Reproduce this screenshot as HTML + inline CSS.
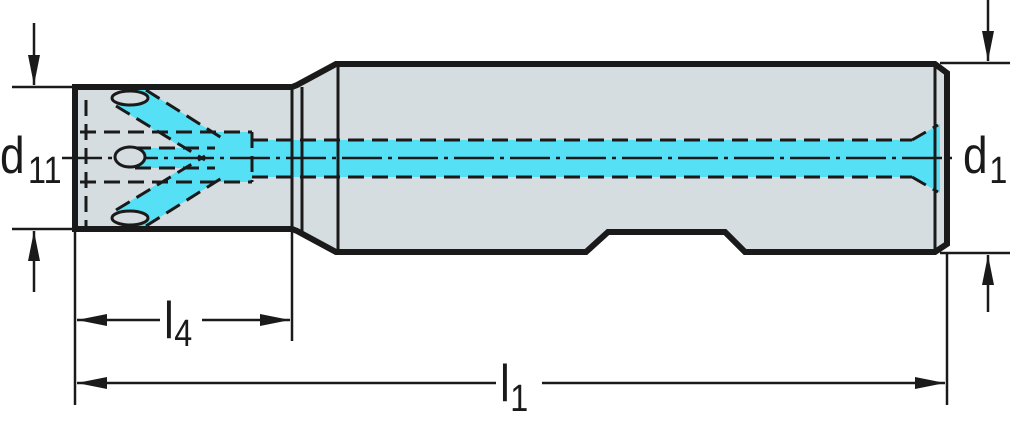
<!DOCTYPE html>
<html><head><style>html,body{margin:0;padding:0;background:#fff}svg{display:block}text{font-family:"Liberation Sans",sans-serif;fill:#1a1a1a}</style></head>
<body>
<svg width="1024" height="428" viewBox="0 0 1024 428" xmlns="http://www.w3.org/2000/svg">
<defs>
<marker id="a" viewBox="0 0 30 12" refX="30" refY="6" markerWidth="30" markerHeight="12" markerUnits="userSpaceOnUse" orient="auto"><path d="M0,0L30,6L0,12z" fill="#1a1a1a"/></marker>
</defs>
<path d="M75,87 L292,87 L297,85 L336,64 L935,64 L947,73 L947,244 L935,252 L745,252 L725,232 L608,232 L586,252 L336,252 L297,231 L292,229 L75,229 Z" fill="#d5dde0"/>
<path d="M250,140 L912,140 L940,124 L940,193 L912,177 L250,177 Z" fill="#55e0f5"/>
<rect x="205" y="132" width="47" height="50" fill="#55e0f5"/>
<path d="M128,90 L146,90 L225,140 L205,162 L116,106 Z" fill="#55e0f5"/>
<path d="M128,226 L146,226 L225,176 L205,154 L116,210 Z" fill="#55e0f5"/>
<path d="M135,148 L215,148 L215,168 L135,168 Z" fill="#55e0f5"/>
<path d="M75,87 L292,87 L297,85 L336,64 L935,64 L947,73 L947,244 L935,252 L745,252 L725,232 L608,232 L586,252 L336,252 L297,231 L292,229 L75,229 Z" fill="none" stroke="#1a1a1a" stroke-width="6" stroke-linejoin="miter"/>
<g stroke="#1a1a1a" stroke-width="3" fill="none">
<line x1="292" y1="87" x2="292" y2="229"/>
<line x1="302" y1="87" x2="302" y2="231"/>
<line x1="338" y1="64" x2="338" y2="252"/>
<line x1="935" y1="64" x2="935" y2="252"/>
</g>
<g stroke="#1a1a1a" stroke-width="3" fill="none" stroke-dasharray="16,8">
<line x1="252" y1="140" x2="912" y2="140"/>
<line x1="252" y1="177" x2="912" y2="177"/>
<path d="M912,140 L938,125"/><path d="M912,177 L938,192"/>
<line x1="80" y1="132" x2="252" y2="132"/>
<line x1="80" y1="182" x2="252" y2="182"/>
<line x1="86" y1="100" x2="86" y2="226"/>
<line x1="252" y1="132" x2="252" y2="182"/>
<path d="M146,90 L225,140"/><path d="M116,106 L205,160"/>
<path d="M146,226 L225,176"/><path d="M116,210 L205,156"/>
<line x1="135" y1="148" x2="215" y2="148"/><line x1="135" y1="168" x2="215" y2="168"/>
</g>
<line x1="62" y1="158" x2="958" y2="158" stroke="#1a1a1a" stroke-width="2.5" stroke-dasharray="40,6,4,6"/>
<g stroke="#1a1a1a" stroke-width="3" fill="#d5dde0">
<ellipse cx="130" cy="98" rx="18" ry="7"/>
<ellipse cx="130" cy="218" rx="18" ry="7"/>
<ellipse cx="130" cy="157" rx="15" ry="10"/>
</g>
<g stroke="#1a1a1a" stroke-width="2.5" fill="none">
<line x1="12" y1="87" x2="75" y2="87"/>
<line x1="12" y1="229" x2="75" y2="229"/>
<line x1="34" y1="23" x2="34" y2="85" marker-end="url(#a)"/>
<line x1="34" y1="292" x2="34" y2="231" marker-end="url(#a)"/>
<line x1="940" y1="63" x2="1010" y2="63"/>
<line x1="940" y1="253" x2="1010" y2="253"/>
<line x1="988" y1="0" x2="988" y2="61" marker-end="url(#a)"/>
<line x1="988" y1="312" x2="988" y2="255" marker-end="url(#a)"/>
<line x1="75" y1="229" x2="75" y2="405"/>
<line x1="292" y1="229" x2="292" y2="341"/>
<line x1="947" y1="252" x2="947" y2="405"/>
<line x1="160" y1="320" x2="77" y2="320" marker-end="url(#a)"/>
<line x1="202" y1="320" x2="290" y2="320" marker-end="url(#a)"/>
<line x1="496" y1="383" x2="77" y2="383" marker-end="url(#a)"/>
<line x1="542" y1="383" x2="945" y2="383" marker-end="url(#a)"/>
</g>
<g transform="translate(0,173) scale(0.85,1)"><text x="0" y="0" font-size="52">d</text><text x="33" y="10" font-size="38">11</text></g>
<g transform="translate(963,173) scale(0.85,1)"><text x="0" y="0" font-size="52">d</text><text x="31" y="10" font-size="38">1</text></g>
<g transform="translate(164,338) scale(0.85,1)"><text x="0" y="0" font-size="52">l</text><text x="12" y="8" font-size="38">4</text></g>
<g transform="translate(500,401) scale(0.85,1)"><text x="0" y="0" font-size="52">l</text><text x="12" y="10" font-size="38">1</text></g>
</svg>
</body></html>
